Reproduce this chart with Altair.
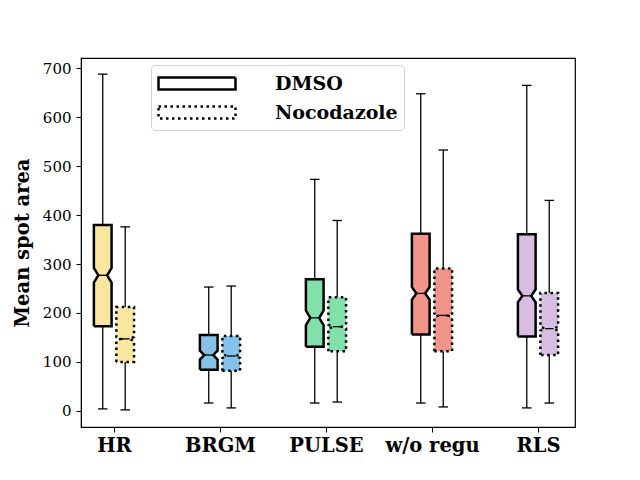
import altair as alt
import pandas as pd

groups = ["HR", "BRGM", "PULSE", "w/o regu", "RLS"]
colors = ["#F9E79F", "#85C1E9", "#82E0AA", "#F1948A", "#D7BDE2"]
conditions = ["DMSO", "Nocodazole"]

# per group: [DMSO, Nocodazole]
whisker_lo = [[4, 2], [16, 6], [16, 18], [16, 8], [6, 16]]
q1 = [[173, 100], [84, 82], [131, 122], [156, 122], [152, 114]]
median = [[277, 147], [114, 112], [190, 172], [240, 195], [235, 168]]
q3 = [[380, 212], [155, 153], [269, 232], [362, 291], [361, 241]]
whisker_hi = [[688, 376], [253, 255], [473, 389], [648, 533], [665, 430]]
notch = [[15, 4], [9, 4], [15, 4], [13, 4], [13, 4]]

offsets = {"DMSO": -0.106, "Nocodazole": 0.106}
box_w = 0.167
cap_w = 0.09

box_rows, outline_rows, stat_rows = [], [], []
for gi, g in enumerate(groups):
    for ci, c in enumerate(conditions):
        xc = gi + offsets[c]
        xl, xr = xc - box_w / 2, xc + box_w / 2
        il, ir = xc - box_w / 4, xc + box_w / 4
        lo_q, hi_q = q1[gi][ci], q3[gi][ci]
        m, n = median[gi][ci], notch[gi][ci]
        key = f"{g}-{c}"
        pts = [(lo_q, xl, xr), (m - n, xl, xr), (m, il, ir),
               (m + n, xl, xr), (hi_q, xl, xr)]
        for yv, a, b in pts:
            box_rows.append({"key": key, "group": g, "cond": c,
                             "y": yv, "xa": a, "xb": b})
        ring = [(xl, lo_q), (xl, m - n), (il, m), (xl, m + n), (xl, hi_q),
                (xr, hi_q), (xr, m + n), (ir, m), (xr, m - n), (xr, lo_q),
                (xl, lo_q)]
        for k, (xv, yv) in enumerate(ring):
            outline_rows.append({"key": key, "cond": c, "x": xv, "y": yv, "k": k})
        stat_rows.append({"group": g, "cond": c, "xc": xc,
                          "lo": whisker_lo[gi][ci], "q1": lo_q,
                          "med": m, "q3": hi_q, "hi": whisker_hi[gi][ci],
                          "cl": xc - cap_w / 2, "cr": xc + cap_w / 2,
                          "il": il, "ir": ir})

boxes = pd.DataFrame(box_rows)
outlines = pd.DataFrame(outline_rows)
stats = pd.DataFrame(stat_rows)

xscale = alt.Scale(domain=[-0.311, 4.349], nice=False, zero=False)
yscale = alt.Scale(domain=[-33, 721], nice=False, zero=False)
label_expr = "[" + ",".join(f"'{g}'" for g in groups) + "][datum.value]"

xaxis = alt.Axis(values=list(range(len(groups))), labelExpr=label_expr, title=None,
                 grid=False, labelFont="DejaVu Serif", labelFontWeight="bold",
                 labelFontSize=19.5, labelColor="black", tickColor="black",
                 domainColor="black", tickSize=5, labelPadding=4)
yaxis = alt.Axis(values=list(range(0, 701, 100)), title="Mean spot area", grid=False,
                 labelFont="DejaVu Serif", labelFontSize=15, labelColor="black",
                 titleFont="DejaVu Serif", titleFontWeight="bold", titleFontSize=19.5,
                 titleColor="black", tickColor="black", domainColor="black",
                 tickSize=5, labelPadding=5, titlePadding=10)

base = alt.Chart(stats)

whisk_lo = base.mark_rule(color="black", strokeWidth=1.3).encode(
    x=alt.X("xc:Q", scale=xscale, axis=xaxis),
    y=alt.Y("lo:Q", scale=yscale, axis=yaxis), y2="q1:Q")
whisk_hi = base.mark_rule(color="black", strokeWidth=1.3).encode(
    x="xc:Q", y="q3:Q", y2="hi:Q")
cap_lo = base.mark_rule(color="black", strokeWidth=1.3).encode(
    x="cl:Q", x2="cr:Q", y="lo:Q")
cap_hi = base.mark_rule(color="black", strokeWidth=1.3).encode(
    x="cl:Q", x2="cr:Q", y="hi:Q")

area = alt.Chart(boxes).mark_area(orient="horizontal", strokeWidth=0,
                                  opacity=1, interpolate="linear").encode(
    y=alt.Y("y:Q"),
    x=alt.X("xa:Q"), x2="xb:Q",
    fill=alt.Fill("group:N", scale=alt.Scale(domain=groups, range=colors), legend=None),
    detail="key:N",
)

box_path = "M-1,-0.545H6V0.545H-1Z"
outline = alt.Chart(outlines).mark_line(color="black", strokeWidth=2.5,
                                        strokeJoin="miter", strokeCap="butt").encode(
    x="x:Q", y="y:Q", detail="key:N", order="k:Q",
    strokeDash=alt.StrokeDash("cond:N", scale=alt.Scale(domain=conditions,
                                                        range=[[1, 0], [2.5, 3.5]]),
                              legend=alt.Legend(
                                  title=None, orient="none", legendX=70, legendY=7,
                                  symbolType=box_path, symbolSize=484,
                                  symbolStrokeColor="black", symbolStrokeWidth=2.5,
                                  symbolFillColor="white",
                                  labelFont="DejaVu Serif", labelFontWeight="bold",
                                  labelFontSize=19, labelColor="black",
                                  labelOffset=93, rowPadding=5,
                                  padding=6, fillColor="white",
                                  strokeColor="#d0d0d0", cornerRadius=4)),
)

med = base.mark_rule(color="black", strokeWidth=1.3).encode(
    x="il:Q", x2="ir:Q", y="med:Q")

chart = alt.layer(whisk_lo, whisk_hi, cap_lo, cap_hi, area, outline, med).properties(
    width=494, height=369,
    autosize=alt.AutoSizeParams(type="none"),
    padding={"left": 73, "top": 50, "right": 57, "bottom": 45},
).configure_view(stroke="black", strokeWidth=1.2)

chart.save("out.html", embed_options={"renderer": "svg", "actions": False})
